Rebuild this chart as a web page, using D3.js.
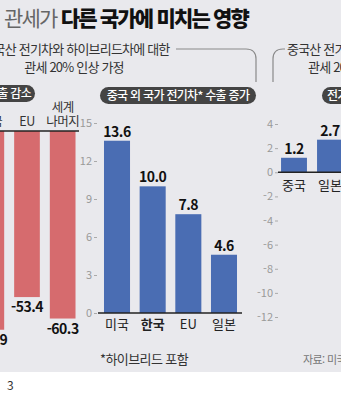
<!DOCTYPE html>
<html lang="ko">
<head>
<meta charset="utf-8">
<script src="https://cdn.jsdelivr.net/npm/d3@7"></script>
<style>
  html, body { margin: 0; padding: 0; background: #fff; }
  svg { display: block; font-family: "Noto Sans CJK KR", "Noto Sans", sans-serif; }
</style>
</head>
<body>
<svg id="chart" width="341" height="400"></svg>
<script>
// ---- data ----
const leftCats = ["미국", "EU", "세계\n나머지"];
const leftValues = [-63.9, -53.4, -60.3];

const midCats = ["미국", "한국", "EU", "일본"];
const midValues = [13.6, 10.0, 7.8, 4.6];
const midTicks = [0, 3, 6, 9, 12, 15];

const rightCats = ["중국", "일본"];
const rightValues = [1.2, 2.7];
const rightTicks = [4, 2, 0, -2, -4, -6, -8, -10, -12];

// plain hyphen for negatives, one decimal
const fmt = d => d.toFixed(1);
const tickFmt = d => String(d);

const RED = "#d66b6e";
const BLUE = "#4a6db3";
const BG = "#e9e9ed";

const svg = d3.select("#chart");

// background panel
svg.append("rect").attr("x", 0).attr("y", 0).attr("width", 341).attr("height", 372).attr("fill", BG);

// ---- title ----
const title = svg.append("text").attr("x", 4).attr("y", 26)
  .attr("font-size", 21).attr("letter-spacing", -1.8);
title.append("tspan").attr("fill", "#666").attr("font-weight", 400).text("관세가 ");
title.append("tspan").attr("fill", "#111").attr("font-weight", 900).text("다른 국가에 미치는 영향");

// ---- scenario headers with brackets ----
const sub = svg.append("g").attr("fill", "#333").attr("font-size", 13).attr("letter-spacing", -0.8);
sub.append("text").attr("x", 76).attr("y", 54).attr("text-anchor", "middle").text("중국산 전기차와 하이브리드차에 대한");
sub.append("text").attr("x", 74).attr("y", 72).attr("text-anchor", "middle").text("관세 20% 인상 가정");
sub.append("text").attr("x", 287).attr("y", 54).text("중국산 전기차와 하이브리드차에 대한");
sub.append("text").attr("x", 308).attr("y", 72).text("관세 20% 인상 가정");

svg.append("path").attr("d", "M176,49 H246 Q256,49 256,59 V82")
  .attr("fill", "none").attr("stroke", "#8a8a8a").attr("stroke-width", 1.2);
svg.append("path").attr("d", "M273,82 V59 Q273,49 283,49 H285")
  .attr("fill", "none").attr("stroke", "#8a8a8a").attr("stroke-width", 1.2);

// ---- pill labels ----
function pill(x0, x1, y, label, anchor, tx) {
  const g = svg.append("g");
  g.append("rect").attr("x", x0).attr("y", y).attr("width", x1 - x0).attr("height", 17)
    .attr("rx", 8.5).attr("fill", "#444");
  g.append("text").attr("x", tx).attr("y", y + 13).attr("text-anchor", anchor)
    .attr("fill", "#fff").attr("font-size", 12).attr("font-weight", 500)
    .attr("letter-spacing", -0.7).text(label);
}
pill(-120, 35, 85, "중국 전기차 수출 감소", "end", 31);
pill(100, 256, 87, "중국 외 국가 전기차* 수출 증가", "middle", 178);
pill(322, 440, 87, "전기차 수출 변화", "start", 327);

// ---- left panel: decreases (bars hang from a top line) ----
const xL = d3.scaleBand().domain(leftCats).range([-26.5, 80.5]).paddingInner(0.28).paddingOuter(0.14);
const yL = d3.scaleLinear().domain([0, -70]).range([131, 348.7]);

const left = svg.append("g");
left.selectAll("rect.bar").data(leftValues).join("rect")
  .attr("class", "bar")
  .attr("x", (d, i) => xL(leftCats[i]))
  .attr("width", xL.bandwidth())
  .attr("y", yL(0))
  .attr("height", d => yL(d) - yL(0))
  .attr("fill", RED);

left.append("line").attr("x1", 0).attr("x2", 79).attr("y1", yL(0)).attr("y2", yL(0))
  .attr("stroke", "#222").attr("stroke-width", 1.5);

left.selectAll("text.val").data(leftValues).join("text")
  .attr("class", "val")
  .attr("x", (d, i) => xL(leftCats[i]) + xL.bandwidth() / 2)
  .attr("y", d => yL(d) + 15)
  .attr("text-anchor", "middle").attr("font-size", 14).attr("font-weight", 700)
  .attr("fill", "#111").attr("letter-spacing", -0.5)
  .text(d => fmt(d));

// category headers above the top line; two-line names share one text element
leftCats.forEach(c => {
  const lines = c.split("\n");
  const cx = xL(c) + xL.bandwidth() / 2;
  const t = left.append("text").attr("text-anchor", "middle").attr("font-size", 12.5)
    .attr("fill", "#333").attr("letter-spacing", -0.5)
    .attr("y", 126 - (lines.length - 1) * 14);
  lines.forEach((ln, j) => {
    t.append("tspan").attr("x", cx).attr("dy", j === 0 ? 0 : 14).text(ln);
  });
});

// ---- middle panel ----
const xM = d3.scaleBand().domain(midCats).range([99, 242]).paddingInner(0.27).paddingOuter(0.14);
const yM = d3.scaleLinear().domain([0, 15]).range([313, 123]);

const mid = svg.append("g");
const axM = d3.axisLeft(yM).tickValues(midTicks).tickFormat(tickFmt).tickSize(3).tickPadding(2);
const gAxM = mid.append("g").attr("transform", "translate(97,0)").call(axM);
gAxM.select(".domain").remove();
gAxM.selectAll(".tick line").attr("stroke", "#aaa");
gAxM.selectAll(".tick text").attr("fill", "#999").attr("font-size", 11)
  .attr("font-family", "'Noto Sans CJK KR', sans-serif");

mid.selectAll("rect").data(midValues).join("rect")
  .attr("x", (d, i) => xM(midCats[i]))
  .attr("width", xM.bandwidth())
  .attr("y", d => yM(d))
  .attr("height", d => yM(0) - yM(d))
  .attr("fill", BLUE);

mid.append("line").attr("x1", 98).attr("x2", 242).attr("y1", yM(0)).attr("y2", yM(0))
  .attr("stroke", "#222").attr("stroke-width", 1.5);

mid.selectAll("text.val").data(midValues).join("text")
  .attr("class", "val")
  .attr("x", (d, i) => xM(midCats[i]) + xM.bandwidth() / 2)
  .attr("y", d => yM(d) - 4)
  .attr("text-anchor", "middle").attr("font-size", 14).attr("font-weight", 700)
  .attr("fill", "#111").attr("letter-spacing", -0.5)
  .text(d => fmt(d));

mid.selectAll("text.cat").data(midCats).join("text")
  .attr("class", "cat")
  .attr("x", d => xM(d) + xM.bandwidth() / 2)
  .attr("y", yM(0) + 16)
  .attr("text-anchor", "middle").attr("font-size", 13)
  .attr("font-weight", d => d === "한국" ? 700 : 400)
  .attr("fill", "#222").text(d => d);

// ---- right panel ----
const xR = d3.scaleBand().domain(rightCats).range([276, 348]).paddingInner(0.28).paddingOuter(0.14);
const yR = d3.scaleLinear().domain([-12, 4]).range([317, 124]);

const right = svg.append("g");
const axR = d3.axisLeft(yR).tickValues(rightTicks).tickFormat(tickFmt).tickSize(3).tickPadding(2);
const gAxR = right.append("g").attr("transform", "translate(278,0)").call(axR);
gAxR.select(".domain").remove();
gAxR.selectAll(".tick line").attr("stroke", "#aaa");
gAxR.selectAll(".tick text").attr("fill", "#999").attr("font-size", 11)
  .attr("font-family", "'Noto Sans CJK KR', sans-serif");

right.selectAll("rect").data(rightValues).join("rect")
  .attr("x", (d, i) => xR(rightCats[i]))
  .attr("width", xR.bandwidth())
  .attr("y", d => yR(d))
  .attr("height", d => yR(0) - yR(d))
  .attr("fill", BLUE);

right.append("line").attr("x1", 278).attr("x2", 341).attr("y1", yR(0)).attr("y2", yR(0))
  .attr("stroke", "#222").attr("stroke-width", 1.5);

right.selectAll("text.val").data(rightValues).join("text")
  .attr("class", "val")
  .attr("x", (d, i) => xR(rightCats[i]) + xR.bandwidth() / 2)
  .attr("y", d => yR(d) - 4)
  .attr("text-anchor", "middle").attr("font-size", 14).attr("font-weight", 700)
  .attr("fill", "#111").attr("letter-spacing", -0.5)
  .text(d => fmt(d));

right.selectAll("text.cat").data(rightCats).join("text")
  .attr("class", "cat")
  .attr("x", d => xR(d) + xR.bandwidth() / 2)
  .attr("y", yR(0) + 18)
  .attr("text-anchor", "middle").attr("font-size", 13)
  .attr("fill", "#222").text(d => d);

// ---- footnotes ----
svg.append("text").attr("x", 100).attr("y", 364).attr("font-size", 13).attr("fill", "#333")
  .attr("letter-spacing", -0.6).text("*하이브리드 포함");
svg.append("text").attr("x", 303).attr("y", 364).attr("font-size", 11).attr("fill", "#777")
  .attr("letter-spacing", -0.6).text("자료: 미국 에너지부");
svg.append("text").attr("x", 7).attr("y", 390).attr("font-size", 12).attr("fill", "#333").text("3");
</script>
</body>
</html>
